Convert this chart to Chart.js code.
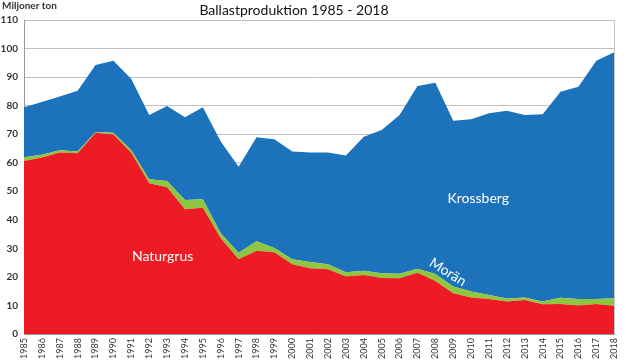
<!DOCTYPE html>
<html>
<head>
<meta charset="utf-8">
<script src="https://cdn.jsdelivr.net/npm/chart.js@4/dist/chart.umd.min.js"></script>
<style>
  html, body { margin: 0; padding: 0; background: #fff; }
  #wrap { position: relative; width: 626px; height: 362px; }
</style>
</head>
<body>
<div id="wrap"><canvas id="c" width="626" height="362"></canvas></div>
<script>
const years = ['1985','1986','1987','1988','1989','1990','1991','1992','1993','1994','1995','1996','1997','1998','1999','2000','2001','2002','2003','2004','2005','2006','2007','2008','2009','2010','2011','2012','2013','2014','2015','2016','2017','2018'];
const naturgrus = [60.6,61.8,63.6,63.3,70.5,69.9,63.5,52.8,51.4,43.7,44.2,33.5,26.2,29.2,28.6,24.4,23.0,22.7,20.1,20.7,19.6,19.5,21.5,18.6,14.3,12.8,12.3,11.4,11.9,10.4,10.5,10.0,10.5,9.8];
const moran = [1.3,1.0,0.8,0.6,0.3,0.6,0.9,1.4,2.2,3.2,3.0,1.8,2.3,3.3,1.5,1.8,2.2,1.7,1.5,1.5,1.7,1.6,1.4,2.4,2.3,2.1,1.4,1.0,0.9,1.0,2.2,2.3,1.8,2.7];
const krossberg = [17.5,18.5,18.8,21.3,23.4,25.2,24.9,22.5,26.3,29.0,32.2,32.1,30.1,36.4,38.1,37.7,38.4,39.2,40.9,46.9,50.2,55.6,64.0,67.0,58.1,60.3,63.6,65.8,63.9,65.6,72.2,74.3,83.4,86.2];
const yTicks = [0,10,20,30,40,50,60,70,80,90,100,110];
const titleText = 'Ballastproduktion 1985 - 2018';
const unitText = 'Miljoner ton';

const FONT = 'Lato, "Open Sans", sans-serif';

const textPlugin = {
  id: 'texts',
  afterDatasetsDraw(chart) {
    const ctx = chart.ctx;
    const ca = chart.chartArea;
    const xs = chart.scales.x, ys = chart.scales.y;
    ctx.save();
    // right border
    ctx.strokeStyle = '#c8c8c8';
    ctx.lineWidth = 1;
    ctx.beginPath();
    ctx.moveTo(Math.round(ca.right) + 0.5, ca.top);
    ctx.lineTo(Math.round(ca.right) + 0.5, ca.bottom);
    ctx.stroke();
    // area labels
    ctx.fillStyle = '#ffffff';
    ctx.textBaseline = 'middle';
    ctx.textAlign = 'center';
    ctx.font = '14px ' + FONT;
    ctx.fillText('Naturgrus', xs.getPixelForValue(7.75), ys.getPixelForValue(27));
    ctx.fillText('Krossberg', xs.getPixelForValue(25.4), ys.getPixelForValue(47.5));
    ctx.save();
    ctx.translate(xs.getPixelForValue(23.7), ys.getPixelForValue(21.7));
    ctx.rotate(0.56);
    ctx.font = '14px ' + FONT;
    ctx.fillText('Morän', 0, 0);
    ctx.restore();
    // title & unit
    ctx.fillStyle = '#111';
    ctx.font = '14px ' + FONT;
    ctx.textAlign = 'center';
    ctx.fillText(titleText, 294, 10);
    ctx.font = 'bold 10px ' + FONT;
    ctx.fillStyle = '#333';
    ctx.textAlign = 'left';
    ctx.fillText(unitText, 2, 6);
    ctx.restore();
  }
};

new Chart(document.getElementById('c'), {
  type: 'line',
  data: {
    labels: years,
    datasets: [
      { label: 'Naturgrus', data: naturgrus, backgroundColor: 'rgb(237,28,36)', borderColor: 'rgb(237,28,36)', borderWidth: 0, pointRadius: 0, fill: 'origin', tension: 0 },
      { label: 'Morän', data: moran, backgroundColor: 'rgb(141,198,63)', borderColor: 'rgb(141,198,63)', borderWidth: 0, pointRadius: 0, fill: '-1', tension: 0 },
      { label: 'Krossberg', data: krossberg, backgroundColor: 'rgb(28,115,187)', borderColor: 'rgb(28,115,187)', borderWidth: 0, pointRadius: 0, fill: '-1', tension: 0 }
    ]
  },
  options: {
    responsive: false,
    animation: false,
    events: [],
    layout: { padding: { top: 20, right: 6, left: 0, bottom: 0 } },
    plugins: { legend: { display: false }, title: { display: false }, tooltip: { enabled: false } },
    scales: {
      x: {
        offset: false,
        grid: { display: false, drawOnChartArea: false, drawTicks: true, tickLength: 3, color: '#999' },
        border: { display: true, color: '#999' },
        ticks: { autoSkip: false, minRotation: 90, maxRotation: 90, padding: 1, color: '#333', font: { family: FONT, size: 9 } },
        afterFit(s) { s.height = 28; }
      },
      y: {
        stacked: true,
        min: 0, max: 110,
        afterBuildTicks(s) { s.ticks = yTicks.map(v => ({ value: v })); },
        grid: { color: '#c0c0c0', drawTicks: false },
        border: { display: true, color: '#999' },
        ticks: { padding: 6, color: '#333', font: { family: FONT, size: 10, weight: 'bold' } },
        afterFit(s) { s.width = 24; }
      }
    }
  },
  plugins: [textPlugin]
});
</script>
</body>
</html>
